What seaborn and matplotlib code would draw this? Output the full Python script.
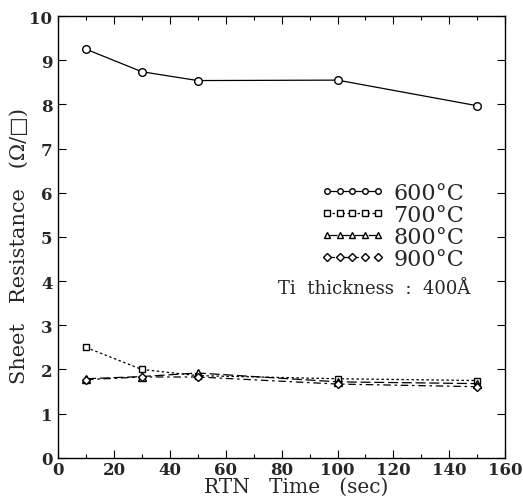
import matplotlib
matplotlib.use("Agg")
import matplotlib.pyplot as plt
import seaborn as sns
import pandas as pd
from matplotlib.ticker import MultipleLocator

sns.set_theme(style="white")
plt.rcParams["font.family"] = ["DejaVu Serif", "DejaVu Sans"]

times = [10, 30, 50, 100, 150]
temps = ["600°C", "700°C", "800°C", "900°C"]
r600 = [9.25, 8.74, 8.54, 8.55, 7.97]
r700 = [2.50, 2.00, 1.86, 1.79, 1.75]
r800 = [1.79, 1.84, 1.92, 1.72, 1.68]
r900 = [1.77, 1.83, 1.83, 1.67, 1.61]

df = pd.DataFrame({
    "time": times * 4,
    "rs": r600 + r700 + r800 + r900,
    "temp": [t for t in temps for _ in times],
})

markers = {"600°C": "o", "700°C": "s", "800°C": "^", "900°C": "D"}
dashes = {"600°C": "", "700°C": (2, 2), "800°C": (8, 3), "900°C": (6, 3, 2, 3)}
msize = {"600°C": 5.5, "700°C": 5, "800°C": 5.5, "900°C": 4.5}

fig = plt.figure(figsize=(5.23, 5.02), dpi=100)
ax = fig.add_axes([0.111, 0.086, 0.855, 0.880])

for t in temps:
    sub = df[df["temp"] == t]
    sns.lineplot(data=sub, x="time", y="rs", ax=ax, color="black",
                 marker=markers[t], markersize=msize[t], markerfacecolor="white",
                 markeredgecolor="black", markeredgewidth=1.0,
                 linewidth=0.9, dashes=False, label=t, legend=False)
    ax.lines[-1].set_linestyle((0, dashes[t]) if dashes[t] else "-")

ax.set_xlim(0, 160)
ax.set_ylim(0, 10)
ax.xaxis.set_major_locator(MultipleLocator(20))
ax.xaxis.set_minor_locator(MultipleLocator(10))
ax.yaxis.set_major_locator(MultipleLocator(1))
ax.tick_params(which="both", direction="in", top=True, right=True,
               bottom=True, left=True, color="black")
ax.tick_params(which="major", length=6, width=0.8, labelsize=12, pad=4)
ax.tick_params(axis="x", which="major", pad=2)
ax.tick_params(which="minor", length=3, width=0.8)
for lab in ax.get_xticklabels() + ax.get_yticklabels():
    lab.set_fontweight("bold")
for s in ax.spines.values():
    s.set_color("black")
    s.set_linewidth(1.0)

ax.set_xlabel("RTN   Time   (sec)", fontsize=14.5)
ax.set_ylabel("Sheet   Resistance   (Ω/□)", fontsize=15)
ax.xaxis.set_label_coords(0.532, -0.044)
ax.yaxis.set_label_coords(-0.066, 0.482)

handles = ax.get_lines()
leg = ax.legend(handles, temps, loc="upper left", bbox_to_anchor=(0.586, 0.625),
                frameon=False, numpoints=5, handlelength=2.9, handletextpad=0.4,
                labelspacing=0.0, fontsize=16, borderaxespad=0, borderpad=0)
for h in leg.legend_handles:
    h.set_markersize(4)

ax.text(0.922, 0.385, "Ti  thickness  :  400Å", transform=ax.transAxes,
        ha="right", va="center", fontsize=13)

fig.savefig("out.png", dpi=100)
